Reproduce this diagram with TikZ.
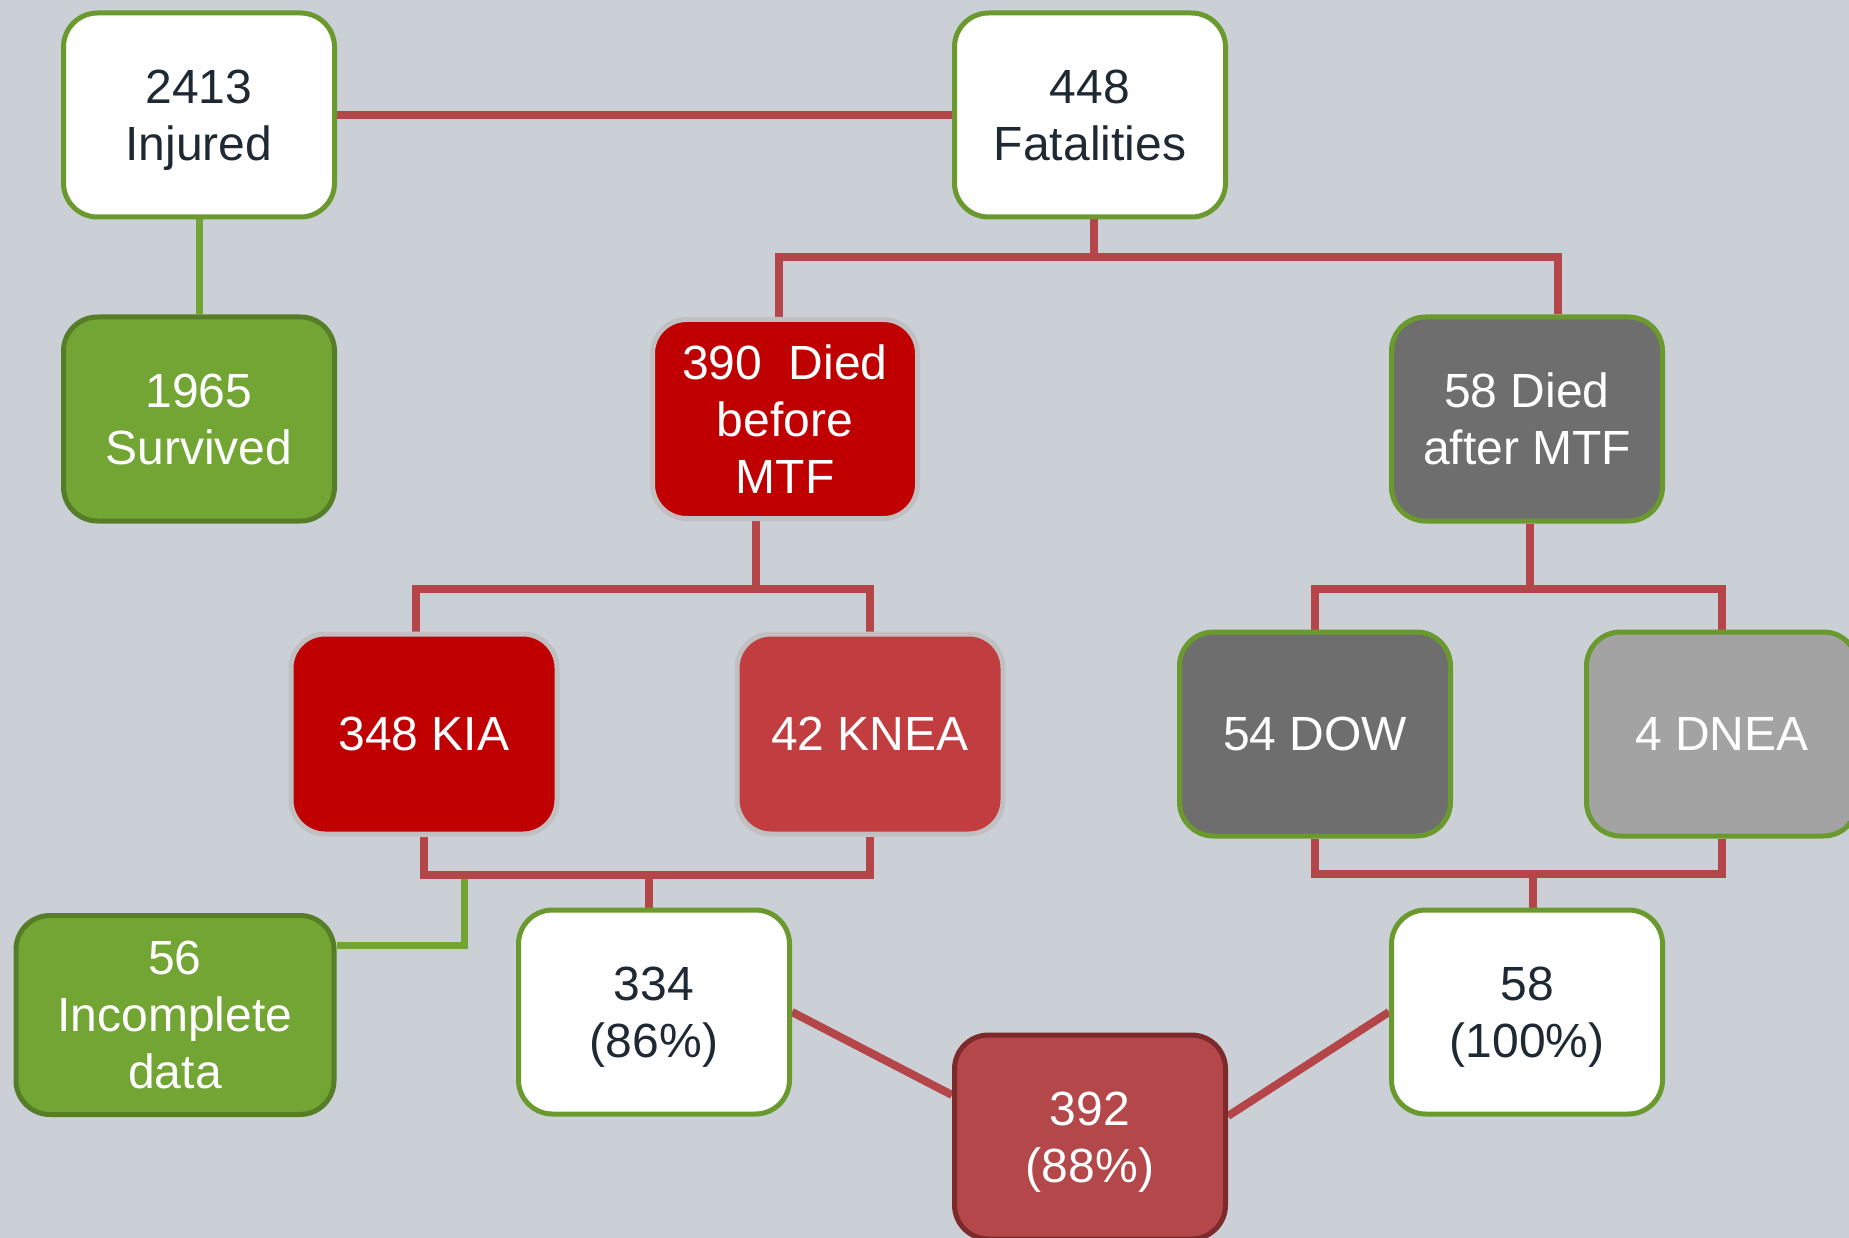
\documentclass[tikz,border=0pt]{standalone}
\usepackage{fontspec}
\setmainfont{Liberation Sans}
\usetikzlibrary{backgrounds,calc}
\definecolor{bgc}{RGB}{203,208,215}
\definecolor{grn}{RGB}{106,154,46}
\definecolor{grnfill}{RGB}{114,165,52}
\definecolor{grndark}{RGB}{86,126,40}
\definecolor{darkred}{RGB}{192,0,0}
\definecolor{midred}{RGB}{194,61,64}
\definecolor{sumred}{RGB}{179,71,73}
\definecolor{sumborder}{RGB}{124,42,44}
\definecolor{halo}{RGB}{192,192,194}
\definecolor{dgray}{RGB}{110,110,110}
\definecolor{lgray}{RGB}{163,163,163}
\definecolor{linered}{RGB}{180,70,74}
\definecolor{txt}{RGB}{31,41,51}
\begin{document}
\begin{tikzpicture}[x=1pt,y=-1pt,
  box/.style={rectangle, rounded corners=34pt, line width=5pt,
    minimum width=271pt, minimum height=204pt, align=center,
    font=\fontsize{48}{57}\selectfont, inner sep=0pt, text depth=0pt},
  whitebox/.style={box, fill=white, draw=grn, text=txt},
  greenbox/.style={box, fill=grnfill, draw=grndark, text=white},
  redbox/.style={box, fill=darkred, draw=halo, text=white},
  knebox/.style={box, fill=midred, draw=halo, text=white},
  graybox/.style={box, fill=dgray, draw=grn, text=white},
  lgraybox/.style={box, fill=lgray, draw=grn, text=white},
  sumbox/.style={box, fill=sumred, draw=sumborder, text=white},
  redline/.style={draw=linered, line width=8pt},
  grnline/.style={draw=grnfill, line width=7pt}]
\useasboundingbox (0,0) rectangle (1849,1238);
\clip (0,0) rectangle (1849,1238);

\node[whitebox] (inj) at (199,115) {2413\\Injured};
\node[whitebox] (fat) at (1090,115) {448\\Fatalities};
\node[greenbox] (surv) at (199,419) {1965\\Survived};
\node[redbox, minimum width=265pt, minimum height=199pt] (d390) at (785,419) {390\ \ Died\\before\\MTF};
\node[graybox] (d58) at (1527,419) {58 Died\\after MTF};
\node[redbox, minimum width=266pt, minimum height=200pt] (kia) at (424,734) {348 KIA};
\node[knebox, minimum width=266pt, minimum height=200pt] (knea) at (870,734) {42 KNEA};
\node[graybox] (dow) at (1315,734) {54 DOW};
\node[lgraybox] (dnea) at (1722,734) {4 DNEA};
\node[greenbox, minimum width=318pt, minimum height=199pt] (inc) at (175,1015) {56\\Incomplete\\data};
\node[whitebox] (p334) at (654,1012) {334\\(86\%)};
\node[sumbox] (p392) at (1090,1137) {392\\(88\%)};
\node[whitebox] (p58) at (1527,1012) {58\\(100\%)};

\coordinate (b1) at (1094,257);
\coordinate (b2) at (756,589);
\coordinate (b3) at (649,875);
\coordinate (g1) at (464,875);
\coordinate (b4) at (1530,589);
\coordinate (b5) at (1533,874);

\begin{pgfonlayer}{background}
\fill[bgc] (0,0) rectangle (1849,1238);
\draw[redline] (inj.east) -- (fat.west);
\draw[grnline] (inj.south) -- (surv.north);
\draw[redline] (fat.south -| b1) -- (b1);
\draw[redline] ([xshift=-6pt]d390.north) |- (b1) -| ([xshift=31pt]d58.north);
\draw[redline] (d390.south -| b2) -- (b2);
\draw[redline] ([xshift=-8pt]kia.north) |- (b2) -| (knea.north);
\draw[grnline] (g1) |- ([yshift=70pt]inc.east);
\draw[redline] (kia.south) |- (b3) -| (knea.south);
\draw[redline] (b3) -- (p334.north -| b3);
\draw[redline] (d58.south -| b4) -- (b4);
\draw[redline] (dow.north) |- (b4) -| (dnea.north);
\draw[redline] (dow.south) |- (b5) -| (dnea.south);
\draw[redline] (b5) -- (p58.north -| b5);
\draw[redline] (p334.east) -- ([yshift=42pt]p392.west);
\draw[redline] ([yshift=21pt]p392.east) -- (p58.west);
\end{pgfonlayer}
\end{tikzpicture}
\end{document}
